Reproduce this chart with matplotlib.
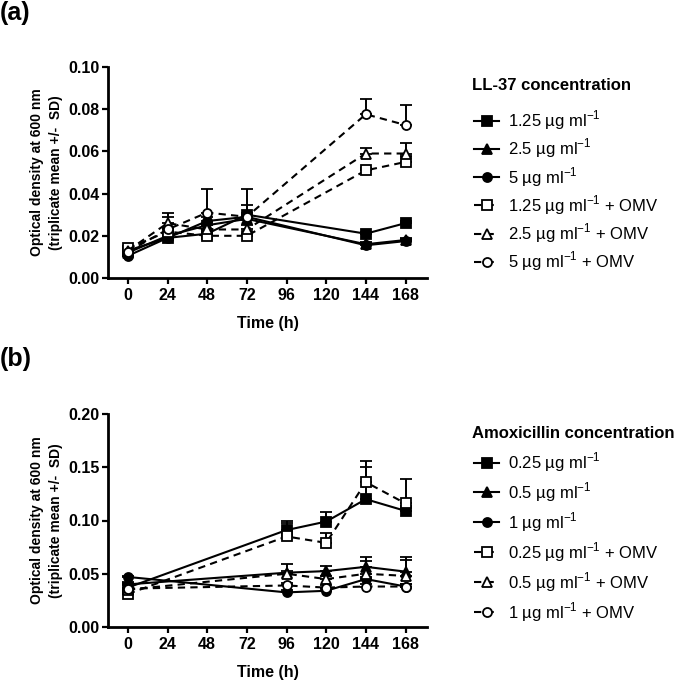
#!/usr/bin/env python3
"""Bacterial growth (OD600) with LL-37 / amoxicillin, with and without OMVs."""
import numpy as np
import matplotlib

matplotlib.use("Agg")
from matplotlib import pyplot as plt

plt.rcParams["font.family"] = ["Liberation Sans", "DejaVu Sans"]
plt.rcParams["mathtext.fontset"] = "custom"
plt.rcParams["mathtext.rm"] = "Liberation Sans"
plt.rcParams["mathtext.bf"] = "Liberation Sans:bold"

# ---- panel (a): LL-37 ----
time_a = [0, 24, 48, 72, 144, 168]
ll_125 = [0.013, 0.019, 0.021, 0.030, 0.021, 0.026]
ll_25 = [0.012, 0.020, 0.025, 0.028, 0.016, 0.018]
ll_5 = [0.0105, 0.019, 0.027, 0.029, 0.0155, 0.0175]
ll_125_omv = [0.014, 0.022, 0.020, 0.020, 0.051, 0.055]
ll_25_omv = [0.013, 0.026, 0.023, 0.023, 0.059, 0.059]
ll_5_omv = [0.0125, 0.023, 0.031, 0.029, 0.0776, 0.0725]

ll_125_sd = [0.001, 0.001, 0.001, 0.0045, 0.001, 0.001]
ll_25_sd = [0.001, 0.002, 0.001, 0.002, 0.001, 0.001]
ll_5_sd = [0.001, 0.001, 0.002, 0.002, 0.001, 0.001]
ll_125_omv_sd = [0.001, 0.002, 0.001, 0.001, 0.001, 0.003]
ll_25_omv_sd = [0.001, 0.005, 0.002, 0.002, 0.0025, 0.005]
ll_5_omv_sd = [0.001, 0.006, 0.011, 0.013, 0.007, 0.0095]

labels_a = [
    r"1.25 µg ml$^{\mathregular{-1}}$",
    r"2.5 µg ml$^{\mathregular{-1}}$",
    r"5 µg ml$^{\mathregular{-1}}$",
    r"1.25 µg ml$^{\mathregular{-1}}$ + OMV",
    r"2.5 µg ml$^{\mathregular{-1}}$ + OMV",
    r"5 µg ml$^{\mathregular{-1}}$ + OMV",
]

# ---- panel (b): amoxicillin ----
time_b = [0, 96, 120, 144, 168]
amx_025 = [0.037, 0.091, 0.099, 0.120, 0.109]
amx_05 = [0.040, 0.051, 0.0525, 0.0565, 0.052]
amx_1 = [0.047, 0.0325, 0.034, 0.045, 0.038]
amx_025_omv = [0.031, 0.085, 0.079, 0.136, 0.116]
amx_05_omv = [0.035, 0.050, 0.045, 0.050, 0.048]
amx_1_omv = [0.036, 0.039, 0.037, 0.038, 0.038]

amx_025_sd = [0.002, 0.0085, 0.009, 0.030, 0.005]
amx_05_sd = [0.002, 0.008, 0.0045, 0.0095, 0.014]
amx_1_sd = [0.001, 0.002, 0.002, 0.002, 0.002]
amx_025_omv_sd = [0.002, 0.0125, 0.0096, 0.020, 0.023]
amx_05_omv_sd = [0.002, 0.003, 0.003, 0.012, 0.015]
amx_1_omv_sd = [0.001, 0.002, 0.002, 0.002, 0.002]

labels_b = [
    r"0.25 µg ml$^{\mathregular{-1}}$",
    r"0.5 µg ml$^{\mathregular{-1}}$",
    r"1 µg ml$^{\mathregular{-1}}$",
    r"0.25 µg ml$^{\mathregular{-1}}$ + OMV",
    r"0.5 µg ml$^{\mathregular{-1}}$ + OMV",
    r"1 µg ml$^{\mathregular{-1}}$ + OMV",
]

markers = ["s", "^", "o", "s", "^", "o"]
fills = ["black", "black", "black", "white", "white", "white"]
styles = ["-", "-", "-", (0, (3.5, 2.5)), (0, (3.5, 2.5)), (0, (3.5, 2.5))]


def draw_panel(ax, t, series, sds, labels, ymax, yticks, title, title_y, leg_y, spacing):
    fig = ax.figure
    handles = []
    for i, (vals, sd) in enumerate(zip(series, sds)):
        vals = np.array(vals)
        sd = np.array(sd)
        cont = ax.errorbar(
            t,
            vals,
            yerr=[np.zeros_like(sd), sd],
            color="black",
            linestyle=styles[i],
            linewidth=1.5,
            marker=markers[i],
            markersize=6.5,
            markerfacecolor=fills[i],
            markeredgecolor="black",
            markeredgewidth=1.3,
            ecolor="black",
            elinewidth=1.4,
            capsize=4,
            capthick=1.4,
        )
        handles.append(cont.lines[0])
    ax.set_xlim(-12, 181)
    ax.set_ylim(0, ymax)
    ax.set_xticks([0, 24, 48, 72, 96, 120, 144, 168])
    ax.set_yticks(yticks)
    ax.set_yticklabels(["%.2f" % v for v in yticks])
    for side in ["top", "right"]:
        ax.spines[side].set_visible(False)
    for side in ["left", "bottom"]:
        ax.spines[side].set_linewidth(2)
    ax.tick_params(direction="out", length=4.5, width=1.6, labelsize=11.5)
    ax.tick_params(axis="x", pad=3)
    ax.tick_params(axis="y", pad=1.5)
    for lab in ax.get_xticklabels() + ax.get_yticklabels():
        lab.set_fontweight("bold")
    ax.set_xlabel("Time (h)", fontsize=11.5, fontweight="bold", labelpad=9)
    ax.set_ylabel(
        "Optical density at 600 nm\n(triplicate mean +/-  SD)",
        fontsize=10,
        fontweight="bold",
        labelpad=4,
        linespacing=1.45,
    )
    fig.text(472 / 689, 1 - title_y / 683, title, fontsize=12,
             fontweight="bold", va="center", ha="left")
    fig.legend(
        handles,
        labels,
        loc="center left",
        bbox_to_anchor=(474 / 689, 1 - leg_y / 683),
        frameon=False,
        fontsize=12,
        numpoints=1,
        handlelength=1.5,
        handletextpad=0.55,
        labelspacing=spacing,
        borderpad=0,
        borderaxespad=0,
    )


fig = plt.figure(figsize=(6.89, 6.83), dpi=100)
ax_a = fig.add_axes([108 / 689, 1 - 278 / 683, 319 / 689, 211 / 683])
ax_b = fig.add_axes([108 / 689, 1 - 627 / 683, 319 / 689, 213 / 683])

draw_panel(
    ax_a,
    time_a,
    [ll_125, ll_25, ll_5, ll_125_omv, ll_25_omv, ll_5_omv],
    [ll_125_sd, ll_25_sd, ll_5_sd, ll_125_omv_sd, ll_25_omv_sd, ll_5_omv_sd],
    labels_a,
    0.10,
    [0.0, 0.02, 0.04, 0.06, 0.08, 0.10],
    "LL-37 concentration",
    85,
    191,
    0.28,
)
draw_panel(
    ax_b,
    time_b,
    [amx_025, amx_05, amx_1, amx_025_omv, amx_05_omv, amx_1_omv],
    [amx_025_sd, amx_05_sd, amx_1_sd, amx_025_omv_sd, amx_05_omv_sd, amx_1_omv_sd],
    labels_b,
    0.20,
    [0.0, 0.05, 0.10, 0.15, 0.20],
    "Amoxicillin concentration",
    433,
    537,
    0.38,
)

fig.text(0.0, 1 - 1 / 683, "(a)", fontsize=18, fontweight="bold", va="top")
fig.text(0.0, 1 - 347 / 683, "(b)", fontsize=18, fontweight="bold", va="top")

plt.savefig("out.png", dpi=100)
